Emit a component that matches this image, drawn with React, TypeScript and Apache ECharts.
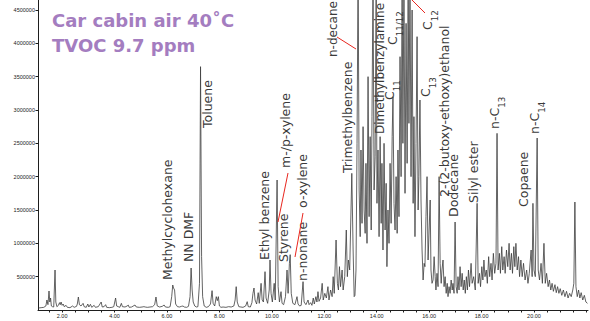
import { useEffect, useRef } from 'react';
import * as echarts from 'echarts';

// ---- Text content ----
const titleLines = ['Car cabin air 40˚C', 'TVOC 9.7 ppm'];
const xTickLabels = [2, 4, 6, 8, 10, 12, 14, 16, 18, 20];
const yTickLabels = [500000, 1000000, 1500000, 2000000, 2500000, 3000000, 3500000, 4000000, 4500000];
const compoundNames = [
  'Methylcyclohexane',
  'NN DMF',
  'Toluene',
  'Ethyl benzene',
  'm-/p-xylene',
  'Styrene',
  'o-xylene',
  'n-nonane',
  'Trimethylbenzene',
  'n-decane',
  'Dimethylbenzylamine',
  '{t|C}{s|11}',
  '{t|C}{s|11/12}',
  '{t|C}{s|12}',
  '{t|C}{s|13}',
  '2-(2-butoxy-ethoxy)ethanol',
  'Dodecane',
  'Silyl ester',
  '{t|n-C}{s|13}',
  'Copaene',
  '{t|n-C}{s|14}',
];

// ---- Chromatogram trace: [retention time (min), abundance] ----
const earlyTrace: [number, number][] = [
  [1.10, 30000], [1.20, 35000], [1.30, 40000], [1.38, 60000], [1.42, 150000], [1.46, 80000],
  [1.50, 285000], [1.53, 120000], [1.56, 180000], [1.59, 60000], [1.63, 50000], [1.68, 45000],
  [1.73, 600000], [1.76, 120000], [1.80, 50000], [1.86, 70000], [1.90, 110000], [1.93, 80000],
  [1.96, 120000], [2.00, 70000], [2.04, 90000], [2.08, 50000], [2.15, 70000], [2.20, 40000],
  [2.30, 35000], [2.40, 60000], [2.46, 40000], [2.55, 55000], [2.58, 90000], [2.62, 195000],
  [2.66, 80000], [2.72, 60000], [2.80, 100000], [2.84, 50000], [2.92, 40000], [2.98, 90000],
  [3.02, 45000], [3.08, 85000], [3.13, 40000], [3.22, 70000], [3.27, 40000], [3.38, 50000],
  [3.49, 120000], [3.53, 45000], [3.60, 50000], [3.66, 80000], [3.70, 40000], [3.80, 35000],
  [3.90, 40000], [3.97, 50000], [4.04, 180000], [4.08, 60000], [4.14, 50000], [4.20, 40000],
  [4.26, 100000], [4.30, 50000], [4.40, 45000], [4.48, 60000], [4.52, 75000], [4.56, 40000],
  [4.65, 45000], [4.78, 75000], [4.83, 45000], [4.95, 40000], [5.05, 45000], [5.12, 50000],
  [5.17, 45000], [5.25, 40000], [5.35, 45000], [5.45, 50000], [5.53, 80000], [5.58, 195000],
  [5.63, 60000], [5.72, 45000], [5.82, 55000], [5.89, 75000], [5.94, 45000], [6.05, 40000],
  [6.12, 50000], [6.18, 200000], [6.22, 375000], [6.25, 330000], [6.29, 300000], [6.33, 90000],
  [6.40, 50000], [6.48, 45000], [6.55, 55000], [6.61, 60000], [6.66, 45000], [6.75, 40000],
  [6.82, 55000], [6.88, 200000], [6.92, 630000], [6.96, 300000], [7.00, 120000], [7.06, 60000],
  [7.12, 45000], [7.18, 50000],
];

const aromaticTrace: [number, number][] = [
  [7.24, 400000], [7.28, 3650000], [7.32, 800000], [7.36, 200000], [7.42, 60000], [7.50, 40000],
  [7.58, 50000], [7.66, 90000], [7.72, 290000], [7.76, 100000], [7.82, 60000], [7.88, 200000],
  [7.92, 140000], [7.96, 200000], [8.00, 60000], [8.06, 40000], [8.14, 45000], [8.25, 40000],
  [8.35, 50000], [8.45, 45000], [8.55, 60000], [8.60, 150000], [8.64, 350000], [8.68, 120000],
  [8.74, 50000], [8.82, 45000], [8.90, 40000], [9.00, 60000], [9.06, 125000], [9.10, 50000],
  [9.18, 45000], [9.24, 110000], [9.28, 250000], [9.32, 330000], [9.36, 150000], [9.42, 90000],
  [9.48, 260000], [9.52, 100000], [9.59, 400000], [9.63, 150000], [9.68, 120000], [9.74, 575000],
  [9.78, 180000], [9.84, 100000], [9.90, 300000], [9.93, 750000], [9.97, 250000], [10.02, 120000],
  [10.09, 400000], [10.13, 150000], [10.20, 1950000], [10.24, 350000], [10.29, 120000], [10.35, 275000],
  [10.39, 100000], [10.45, 80000], [10.52, 200000], [10.58, 600000], [10.62, 250000], [10.67, 700000],
  [10.70, 830000], [10.74, 250000], [10.80, 100000], [10.88, 80000], [10.96, 200000], [11.00, 90000],
  [11.06, 60000], [11.12, 70000], [11.19, 425000], [11.23, 120000], [11.30, 80000], [11.38, 150000],
  [11.42, 80000], [11.48, 110000], [11.53, 70000], [11.58, 180000], [11.62, 90000], [11.68, 200000],
  [11.72, 120000], [11.76, 275000], [11.80, 130000], [11.86, 180000], [11.92, 400000], [11.96, 150000],
  [12.02, 250000], [12.08, 180000], [12.14, 350000], [12.18, 150000], [12.24, 300000], [12.30, 200000],
  [12.34, 500000], [12.38, 250000], [12.45, 1050000], [12.50, 400000], [12.54, 300000], [12.58, 650000],
  [12.62, 350000], [12.68, 600000], [12.72, 300000], [12.78, 500000], [12.84, 1200000], [12.88, 500000],
  [12.92, 750000], [12.97, 600000], [13.05, 2050000], [13.10, 900000], [13.14, 200000], [13.17, 220000],
];

const denseTrace: [number, number][] = [
  [13.21, 600000], [13.25, 2500000], [13.29, 5200000], [13.33, 1800000], [13.37, 1100000], [13.40, 2400000],
  [13.44, 1300000], [13.48, 2750000], [13.52, 1500000], [13.56, 1150000], [13.59, 2200000], [13.63, 1000000],
  [13.67, 3500000], [13.71, 1400000], [13.75, 2600000], [13.79, 1200000], [13.82, 2900000], [13.86, 5000000],
  [13.90, 1800000], [13.94, 2300000], [13.98, 5000000], [14.01, 1600000], [14.05, 2400000], [14.09, 1100000],
  [14.13, 2600000], [14.17, 1300000], [14.20, 2200000], [14.24, 900000], [14.28, 2500000], [14.32, 1200000],
  [14.36, 1900000], [14.39, 650000], [14.43, 1500000], [14.47, 1000000], [14.51, 2200000], [14.55, 1300000],
  [14.59, 2600000], [14.62, 3200000], [14.66, 1600000], [14.70, 1200000], [14.74, 2000000], [14.78, 1150000],
  [14.81, 2400000], [14.85, 1400000], [14.89, 3800000], [14.93, 2000000], [14.97, 5000000], [15.00, 2500000],
  [15.04, 5000000], [15.08, 1750000], [15.12, 4300000], [15.16, 2200000], [15.20, 5000000], [15.23, 2800000],
  [15.27, 5000000], [15.31, 2000000], [15.35, 4500000], [15.39, 1600000], [15.42, 2900000], [15.46, 1100000],
  [15.50, 2500000], [15.54, 4100000], [15.58, 1500000], [15.61, 2000000], [15.65, 3150000], [15.69, 1650000],
  [15.73, 900000], [15.77, 450000], [15.81, 700000], [15.84, 650000], [15.88, 1400000], [15.92, 2000000],
  [15.96, 750000], [16.00, 1200000], [16.04, 1650000], [16.07, 600000], [16.11, 400000], [16.15, 450000],
  [16.19, 800000], [16.23, 500000], [16.26, 300000], [16.30, 550000], [16.34, 350000],
];

const lateTrace: [number, number][] = [
  [16.38, 2000000], [16.42, 700000], [16.46, 400000], [16.49, 600000], [16.53, 750000], [16.57, 350000],
  [16.61, 500000], [16.65, 250000], [16.69, 400000], [16.72, 200000], [16.76, 350000], [16.80, 250000],
  [16.84, 450000], [16.88, 300000], [16.91, 400000], [16.95, 250000], [16.99, 1320000], [17.03, 350000],
  [17.07, 250000], [17.10, 500000], [17.14, 300000], [17.18, 650000], [17.22, 350000], [17.26, 550000],
  [17.30, 300000], [17.34, 450000], [17.38, 250000], [17.42, 500000], [17.46, 300000], [17.50, 600000],
  [17.54, 350000], [17.60, 700000], [17.64, 400000], [17.70, 500000], [17.76, 300000], [17.83, 1600000],
  [17.87, 400000], [17.92, 550000], [17.96, 350000], [18.01, 650000], [18.05, 450000], [18.09, 750000],
  [18.13, 500000], [18.18, 600000], [18.22, 400000], [18.27, 800000], [18.31, 500000], [18.36, 700000],
  [18.40, 450000], [18.45, 850000], [18.50, 550000], [18.55, 700000], [18.59, 2650000], [18.63, 600000],
  [18.68, 850000], [18.72, 550000], [18.77, 950000], [18.81, 600000], [18.86, 800000], [18.90, 550000],
  [18.95, 900000], [19.00, 650000], [19.05, 1000000], [19.09, 600000], [19.14, 850000], [19.18, 550000],
  [19.23, 950000], [19.27, 650000], [19.31, 1000000], [19.36, 600000], [19.41, 800000], [19.45, 500000],
  [19.50, 750000], [19.55, 500000], [19.60, 700000], [19.66, 450000], [19.72, 600000], [19.77, 400000],
  [19.82, 550000], [19.89, 900000], [19.93, 500000], [19.96, 1600000], [20.00, 600000], [20.05, 500000],
  [20.12, 2580000], [20.16, 600000], [20.21, 450000], [20.27, 700000], [20.32, 400000], [20.38, 1000000],
  [20.43, 400000], [20.48, 550000], [20.54, 350000], [20.59, 450000], [20.64, 300000], [20.69, 400000],
  [20.74, 280000], [20.80, 380000], [20.85, 260000], [20.90, 350000], [20.95, 250000], [21.00, 320000],
  [21.06, 220000], [21.12, 300000], [21.18, 200000], [21.24, 280000], [21.30, 180000], [21.36, 250000],
  [21.42, 200000], [21.48, 300000], [21.52, 400000], [21.56, 1620000], [21.60, 350000], [21.65, 200000],
  [21.70, 300000], [21.75, 180000], [21.80, 260000], [21.86, 150000], [21.92, 220000], [21.98, 120000],
  [22.04, 100000],
];

// ---- Layout (pixel anchors for rotated annotations: column centre, bottom of text, font size) ----
const labelAnchors: [number, number, number][] = [
  [170, 280, 12.5], [191, 262, 12.5], [210, 128, 12.5], [267, 260, 12.5], [288, 168, 12.5],
  [286, 262, 12.5], [305, 208, 12.5], [305, 281, 12.5], [350, 173, 12.5], [336, 57, 12],
  [383, 134, 12], [392, 100, 12.5], [395, 45, 12.5], [430, 30, 12.5], [428, 97, 12.5],
  [447, 197, 12.5], [456, 217, 12.5], [476, 203, 12.5], [497, 129, 12.5], [526, 207, 12.5],
  [537, 134, 12.5],
];
const leaderLines: [number, number, number, number][] = [
  [278, 222, 288, 173],
  [295, 257, 303, 213],
  [337, 37, 356, 49],
  [412, 0, 425, 13],
];

export default function App() {
  const ref = useRef<HTMLDivElement>(null);

  useEffect(() => {
    if (!ref.current) return;
    const chart = echarts.init(ref.current, undefined, { renderer: 'svg' });
    const trace = [...earlyTrace, ...aromaticTrace, ...denseTrace, ...lateTrace];
    const xTicks: number[] = [];
    for (let v = 1.5; v <= 22.01; v += 0.5) xTicks.push(Math.round(v * 10) / 10);

    const labelFont = 'DejaVu Sans, Verdana, sans-serif';
    const makeRich = (fs: number) => ({
      t: { fontSize: fs, lineHeight: 18, verticalAlign: 'top', fontFamily: labelFont, fill: '#3a3a3a' },
      s: { fontSize: fs * 0.7, lineHeight: 10, verticalAlign: 'bottom', fontFamily: labelFont, fill: '#3a3a3a' },
    });

    const graphics: any[] = [];
    compoundNames.forEach((name, i) => {
      const [x, y, fs] = labelAnchors[i];
      const text = name.indexOf('{') === 0 ? name : `{t|${name}}`;
      graphics.push({
        type: 'text',
        x,
        y,
        rotation: Math.PI / 2,
        z: 100,
        style: {
          text,
          rich: makeRich(fs),
          fontSize: fs,
          fontFamily: labelFont,
          fill: '#3a3a3a',
          align: 'left',
          verticalAlign: 'middle',
        },
      });
    });
    leaderLines.forEach(([x1, y1, x2, y2]) => {
      graphics.push({
        type: 'line',
        z: 100,
        shape: { x1, y1, x2, y2 },
        style: { stroke: '#e8261f', lineWidth: 1 },
      });
    });
    titleLines.forEach((line, i) => {
      graphics.push({
        type: 'text',
        x: 52,
        y: i === 0 ? 20.5 : 45.5,
        z: 100,
        style: {
          text: line,
          fontSize: 18,
          fontWeight: 'bold',
          fontFamily: 'DejaVu Sans, Verdana, sans-serif',
          fill: '#a47dc0',
          align: 'left',
          verticalAlign: 'middle',
        },
      });
    });

    chart.setOption({
      animation: false,
      backgroundColor: '#ffffff',
      grid: { left: 38, right: 2, top: 0, bottom: 11, containLabel: false },
      xAxis: {
        type: 'value',
        min: 1.08,
        max: 22.06,
        axisLine: { show: true, lineStyle: { color: '#1e1e1e', width: 1 } },
        axisTick: { show: true, customValues: xTicks, length: 2.5, lineStyle: { color: '#1e1e1e' } },
        axisLabel: {
          customValues: xTickLabels,
          formatter: (v: number) => v.toFixed(2),
          fontSize: 5.5,
          fontFamily: 'Liberation Sans, Arial, sans-serif',
          color: '#222',
          margin: 3,
        },
        splitLine: { show: false },
      },
      yAxis: {
        type: 'value',
        min: 0,
        max: 4650000,
        axisLine: { show: true, lineStyle: { color: '#1e1e1e', width: 1 } },
        axisTick: { show: true, customValues: yTickLabels, length: 2.5, lineStyle: { color: '#1e1e1e' } },
        axisLabel: {
          customValues: yTickLabels,
          formatter: (v: number) => String(Math.round(v)),
          fontSize: 5.5,
          fontFamily: 'Liberation Sans, Arial, sans-serif',
          color: '#222',
          margin: 3,
        },
        splitLine: { show: false },
      },
      series: [
        {
          type: 'line',
          data: trace,
          showSymbol: false,
          symbol: 'none',
          clip: true,
          lineStyle: { color: '#3c3c3c', width: 0.8 },
          silent: true,
        },
      ],
      graphic: graphics,
    });
    return () => chart.dispose();
  }, []);

  return (
    <div
      ref={ref}
      style={{ position: 'fixed', left: 0, top: 0, width: 590, height: 321, background: '#fff' }}
    />
  );
}
